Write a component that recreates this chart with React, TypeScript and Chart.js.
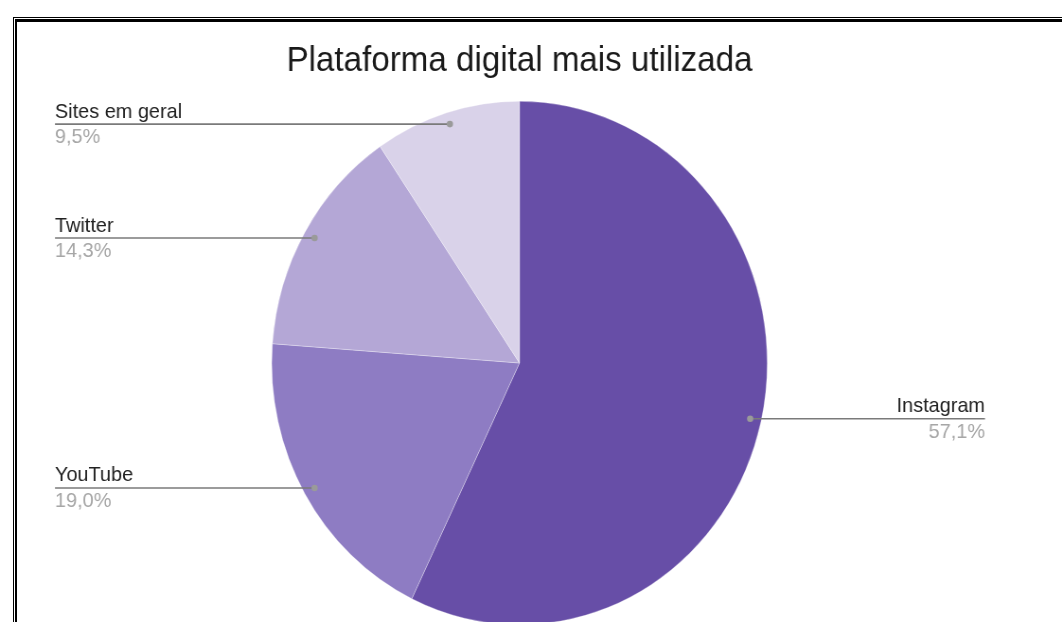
import React, { useEffect, useRef } from "react";
import { Chart, registerables } from "chart.js";

Chart.register(...registerables);

const titleText = "Plataforma digital mais utilizada";
const categories = ["Instagram", "YouTube", "Twitter", "Sites em geral"];
const values = [57.1, 19.0, 14.3, 9.5];
const colors = ["#674ea7", "#8e7cc3", "#b4a7d6", "#d9d2e9"];

const SX = 248 / 262; // horizontal squash of the reference picture
const CW = 1122;
const CH = 640;
const FONT = "Arial, 'Liberation Sans', sans-serif";

const labelPlugin = {
  id: "leaderLabels",
  afterDraw(chart: any) {
    const ctx = chart.ctx;
    const meta = chart.getDatasetMeta(0);
    const ca = chart.chartArea;
    ctx.save();
    // title
    ctx.fillStyle = "#1a1a1a";
    ctx.font = `35px ${FONT}`;
    ctx.textAlign = "center";
    ctx.textBaseline = "alphabetic";
    ctx.fillText(titleText, (ca.left + ca.right) / 2, 71);

    const leftX = 55 / SX;
    const rightX = 985 / SX;
    meta.data.forEach((arc: any, i: number) => {
      const p = arc.getProps(["x", "y", "startAngle", "endAngle", "outerRadius"], true);
      const mid = (p.startAngle + p.endAngle) / 2;
      const dx = p.x + Math.cos(mid) * p.outerRadius * 0.955;
      const dy = p.y + Math.sin(mid) * p.outerRadius * 0.955;
      const left = Math.cos(mid) < 0;
      const endX = left ? leftX : rightX;
      ctx.strokeStyle = "#7a7a7a";
      ctx.lineWidth = 1.6;
      ctx.beginPath();
      ctx.moveTo(dx, dy);
      ctx.lineTo(endX, dy);
      ctx.stroke();
      ctx.fillStyle = "#9a9a9a";
      ctx.beginPath();
      ctx.arc(dx, dy, 3.3, 0, Math.PI * 2);
      ctx.fill();
      ctx.textAlign = left ? "left" : "right";
      ctx.font = `21px ${FONT}`;
      ctx.fillStyle = "#222222";
      ctx.fillText(categories[i], endX, dy - 6.5);
      ctx.fillStyle = "#a6a6a6";
      ctx.fillText(values[i].toFixed(1).replace(".", ",") + "%", endX, dy + 19);
    });
    ctx.restore();
  },
};

export default function App() {
  const ref = useRef<HTMLCanvasElement>(null);
  useEffect(() => {
    if (!ref.current) return;
    const cx = 519.5 / SX;
    const cy = 363;
    const r = 262;
    const chart = new Chart(ref.current, {
      type: "pie",
      data: {
        labels: categories,
        datasets: [
          {
            data: values,
            backgroundColor: colors,
            borderColor: "rgba(255,255,255,0.6)",
            borderWidth: 0.5,
            hoverOffset: 0,
          },
        ],
      },
      options: {
        animation: false,
        responsive: false,
        maintainAspectRatio: false,
        events: [],
        layout: {
          padding: {
            top: cy - r,
            bottom: CH - (cy + r),
            left: cx - r,
            right: CW - (cx + r),
          },
        },
        plugins: {
          legend: { display: false },
          title: { display: false },
          tooltip: { enabled: false },
        },
      },
      plugins: [labelPlugin],
    });
    return () => chart.destroy();
  }, []);

  return (
    <div
      style={{
        position: "fixed",
        left: 0,
        top: 0,
        width: 1062,
        height: 622,
        overflow: "hidden",
        background: "#ffffff",
      }}
    >
      <canvas
        ref={ref}
        width={CW}
        height={CH}
        style={{
          position: "absolute",
          left: 0,
          top: 0,
          width: CW + "px",
          height: CH + "px",
          transform: `scaleX(${SX})`,
          transformOrigin: "0 0",
        }}
      />
      <div style={{ position: "absolute", left: 13, top: 17, right: 0, height: 1, background: "#000" }} />
      <div style={{ position: "absolute", left: 15, top: 19, right: 0, height: 3, background: "#000" }} />
      <div style={{ position: "absolute", left: 13, top: 17, bottom: 0, width: 1, background: "#000" }} />
      <div style={{ position: "absolute", left: 15, top: 19, bottom: 0, width: 2, background: "#000" }} />
    </div>
  );
}
